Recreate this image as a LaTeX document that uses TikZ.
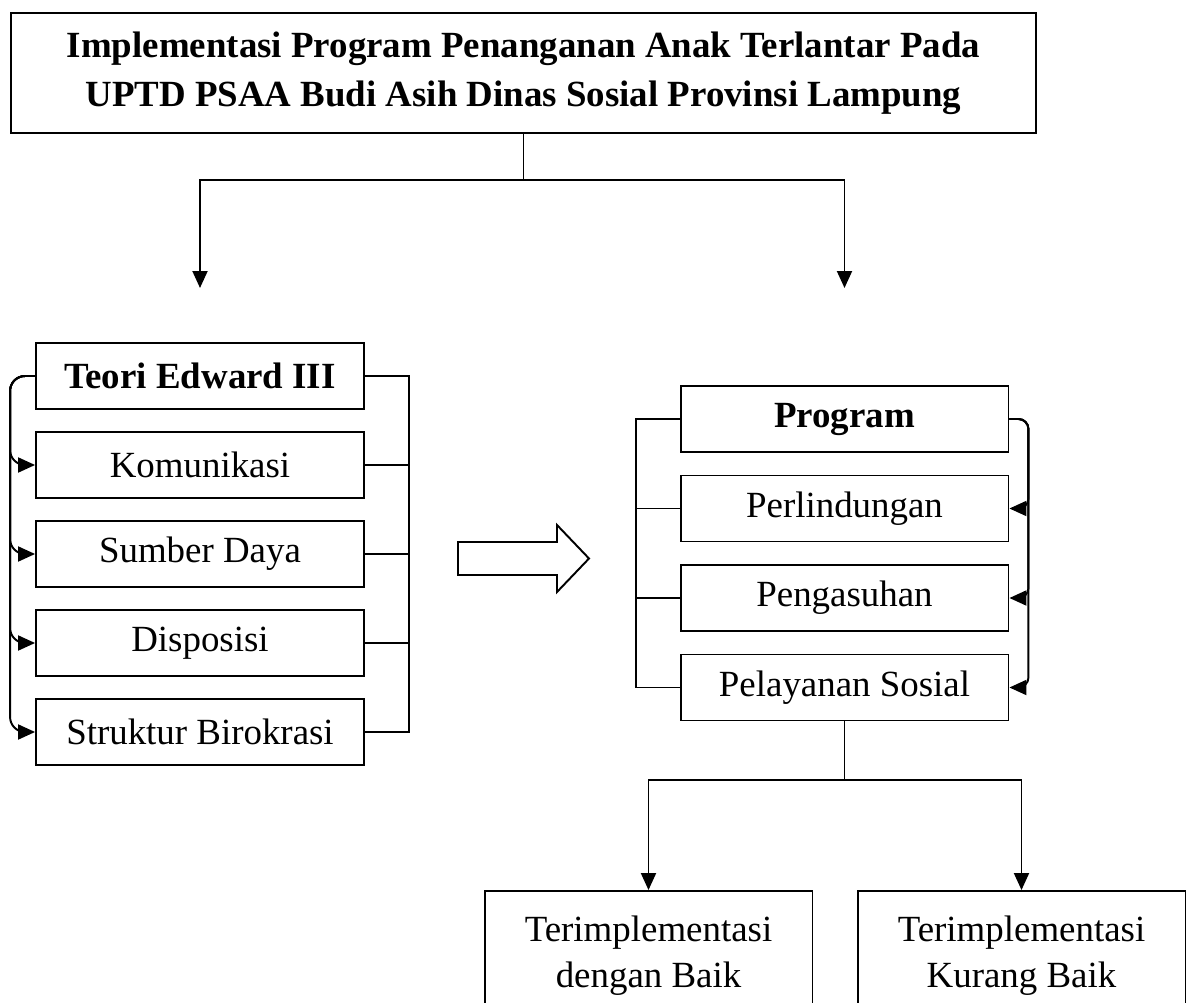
\documentclass[tikz,border=0pt]{standalone}
\usepackage{fontspec}
\setmainfont{Liberation Serif}
\usepackage{tikz}
\usetikzlibrary{arrows.meta}

\tikzset{
  box/.style={draw, line width=1.1pt, minimum width=6.56cm, minimum height=1.32cm,
    inner sep=0pt, font=\fontsize{21}{28}\selectfont},
  endbox/.style={box, minimum height=2.6cm, align=center,
    font=\fontsize{21}{26}\selectfont}
}

\begin{document}
\begin{tikzpicture}[x=0.02cm, y=-0.02cm, line width=1.1pt,
  >={Triangle[length=0.34cm, width=0.3cm]}]
\useasboundingbox (0, 0) rectangle (1190, 1003);
% judul
\node[box, minimum width=20.5cm, minimum height=2.4cm, align=center] (title) at (523.5, 73)
  {\bfseries Implementasi Program Penanganan Anak Terlantar Pada\\
   \bfseries UPTD PSAA Budi Asih Dinas Sosial Provinsi Lampung};
\coordinate (tj) at (523.5, 180);
\coordinate (lend) at (200, 288);
\coordinate (rend) at (844.5, 288);
\draw (title.south) -- (tj);
\draw[->] (tj) -| (lend);
\draw[->] (tj) -| (rend);
% teori
\node[box] (teori) at (200, 376) {\bfseries Teori Edward III};
\node[box] (kom) at (200, 465) {Komunikasi};
\node[box] (sd) at (200, 554) {Sumber Daya};
\node[box] (disp) at (200, 643) {Disposisi};
\node[box] (str) at (200, 732) {Struktur Birokrasi};
\foreach \n in {kom, sd, disp, str}
  \draw[->, rounded corners=0.3cm] (teori.west) -- ++(-25, 0) |- (\n.west);
\draw (teori.east) -- ++(44, 0) |- (str.east);
\foreach \n in {kom, sd, disp}
  \draw (\n.east) -- ++(44, 0);
% panah besar
\draw (458, 542) -- (557, 542) -- (557, 525) -- (589, 558.5) -- (557, 592)
  -- (557, 575) -- (458, 575) -- cycle;
% program
\node[box] (prog) at (844.5, 419) {\bfseries Program};
\node[box] (perl) at (844.5, 508.5) {Perlindungan};
\node[box] (peng) at (844.5, 598) {Pengasuhan};
\node[box] (pel) at (844.5, 687.5) {Pelayanan Sosial};
\foreach \n in {perl, peng, pel}
  \draw[->, rounded corners=0.2cm] (prog.east) -- ++(19, 0) |- (\n.east);
\draw (prog.west) -- ++(-44, 0) |- (pel.west);
\foreach \n in {perl, peng}
  \draw (\n.west) -- ++(-44, 0);
% hasil
\node[endbox] (baik) at (648.5, 956) {Terimplementasi\\dengan Baik};
\node[endbox] (kurang) at (1021.5, 956) {Terimplementasi\\Kurang Baik};
\coordinate (bj) at (844.5, 780);
\draw (pel.south) -- (bj);
\draw[->] (bj) -| (baik.north);
\draw[->] (bj) -| (kurang.north);
\end{tikzpicture}
\end{document}
